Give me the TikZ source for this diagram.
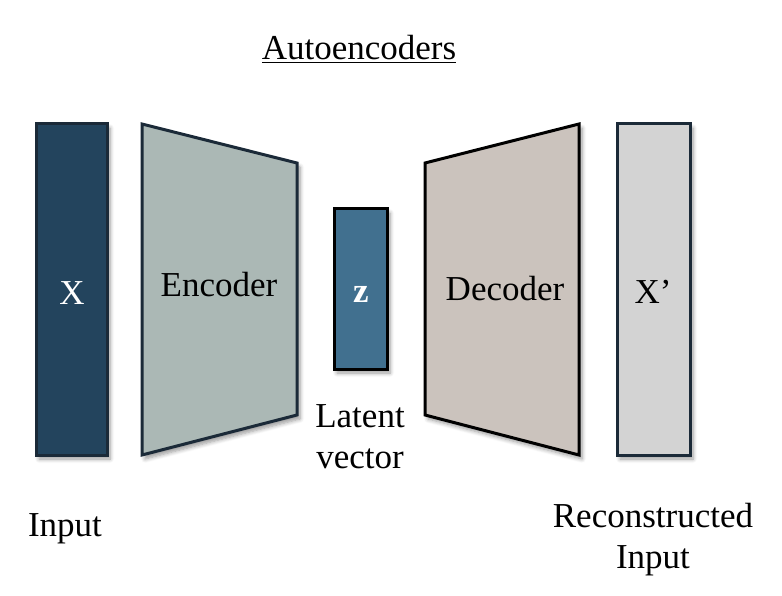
\documentclass[tikz,border=0pt]{standalone}
\usepackage{fontspec}
\setmainfont{Liberation Serif}
\usetikzlibrary{shadows.blur}
\definecolor{xfill}{HTML}{23445D}
\definecolor{navyline}{HTML}{1B2A38}
\definecolor{encfill}{HTML}{ABB8B5}
\definecolor{zfill}{HTML}{41708F}
\definecolor{decfill}{HTML}{CBC3BD}
\definecolor{xpfill}{HTML}{D3D3D3}
\tikzset{
  block/.style={line width=3pt, line join=miter,
    blur shadow={shadow xshift=3pt, shadow yshift=-4pt, shadow blur steps=6, shadow blur radius=4pt, shadow opacity=40}},
  txt/.style={inner sep=0pt, anchor=base, font=\fontsize{35}{42}\selectfont},
}
\begin{document}
\begin{tikzpicture}[x=1pt,y=-1pt]
\useasboundingbox (0,0) rectangle (782,596);
% blocks
\draw[block, fill=xfill, draw=navyline] (36,124) rectangle (107,455);
\draw[block, fill=encfill, draw=navyline] (142,124) -- (297,163) -- (297,415) -- (142,455) -- cycle;
\draw[block, fill=zfill, draw=black] (334,209) rectangle (387,369);
\draw[block, fill=decfill, draw=black] (425,163) -- (579,124) -- (579,455) -- (425,415) -- cycle;
\draw[block, fill=xpfill, draw=navyline] (617,124) rectangle (690,455);
% title
\node[txt] (title) at (359,60) {\underline{Autoencoders}};
% labels inside
\node[txt, text=white] (xlab) at (72,304) {X};
\node[txt] (enc) at (219,296) {Encoder};
\node[txt, text=white, font=\fontsize{35}{42}\selectfont\bfseries] (zlab) at (361,302) {z};
\node[txt] (dec) at (505,301) {Decoder};
\node[txt] (xplab) at (653,303) {X’};
% bottom labels
\node[txt] (lat1) at (360,427) {Latent};
\node[txt] (lat2) at (360,468) {vector};
\node[txt] (inp) at (65,536) {Input};
\node[txt] (rec1) at (653,527) {Reconstructed};
\node[txt] (rec2) at (653,568) {Input};
\end{tikzpicture}
\end{document}
